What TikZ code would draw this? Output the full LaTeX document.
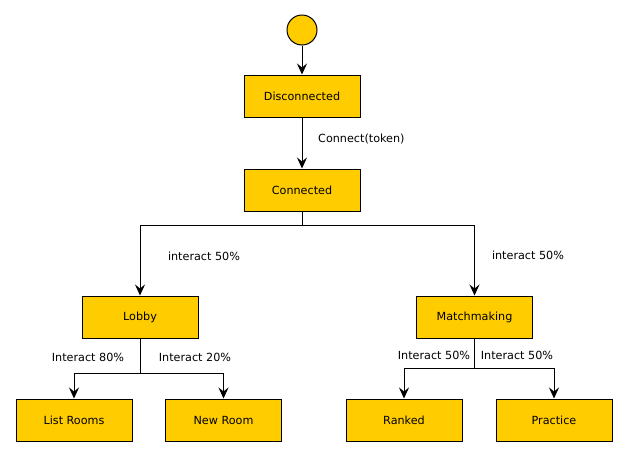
\documentclass[tikz,border=0pt]{standalone}
\usepackage{fontspec}
\setmainfont{DejaVu Sans}
\usetikzlibrary{arrows.meta}
\definecolor{boxfill}{HTML}{FFCC00}
\tikzset{
  state/.style={draw=black, fill=boxfill, line width=1pt, minimum width=116pt, minimum height=42pt, inner sep=0pt, font=\fontsize{11.2}{13}\selectfont},
  initstate/.style={draw=black, fill=boxfill, line width=1pt, circle, minimum size=30pt, inner sep=0pt},
  conn/.style={line width=1pt, -{Stealth[length=11pt,width=10pt,inset=4pt]}},
  lbl/.style={font=\fontsize{11.2}{13}\selectfont, inner sep=0pt}
}
\begin{document}
\begin{tikzpicture}[x=1pt,y=-1pt]
\useasboundingbox (0,0) rectangle (626,456);
\node[initstate] (init) at (302,30) {};
\node[state] (D) at (302,96) {Disconnected};
\node[state] (C) at (302,190) {Connected};
\node[state] (L) at (140,317) {Lobby};
\node[state] (M) at (474.5,317) {Matchmaking};
\node[state] (LR) at (74,420) {List Rooms};
\node[state] (NR) at (223.5,420) {New Room};
\node[state] (R) at (404,420) {Ranked};
\node[state] (P) at (554,420) {Practice};

\draw[conn] (init) -- (D);
\draw[conn] (D) -- (C);
\node[lbl, anchor=west] (l1) at (318,139) {Connect(token)};

\draw[conn] (C.south) -- ++(0,14) -| (L.north);
\draw[conn] (C.south) -- ++(0,14) -| (M.north);
\node[lbl] (l2) at (204,256) {interact 50\%};
\node[lbl] (l3) at (528,255) {interact 50\%};

\draw[conn] (L.south) -- ++(0,35) -| (LR.north);
\draw[conn] (L.south) -- ++(0,35) -| (NR.north);
\node[lbl] (l4) at (88,357) {Interact 80\%};
\node[lbl] (l5) at (195,357) {Interact 20\%};

\draw[conn] (M.south) -- ++(0,30) -| (R.north);
\draw[conn] (M.south) -- ++(0,30) -| (P.north);
\node[lbl] (l6) at (434,355) {Interact 50\%};
\node[lbl] (l7) at (517,355) {Interact 50\%};
\end{tikzpicture}
\end{document}
